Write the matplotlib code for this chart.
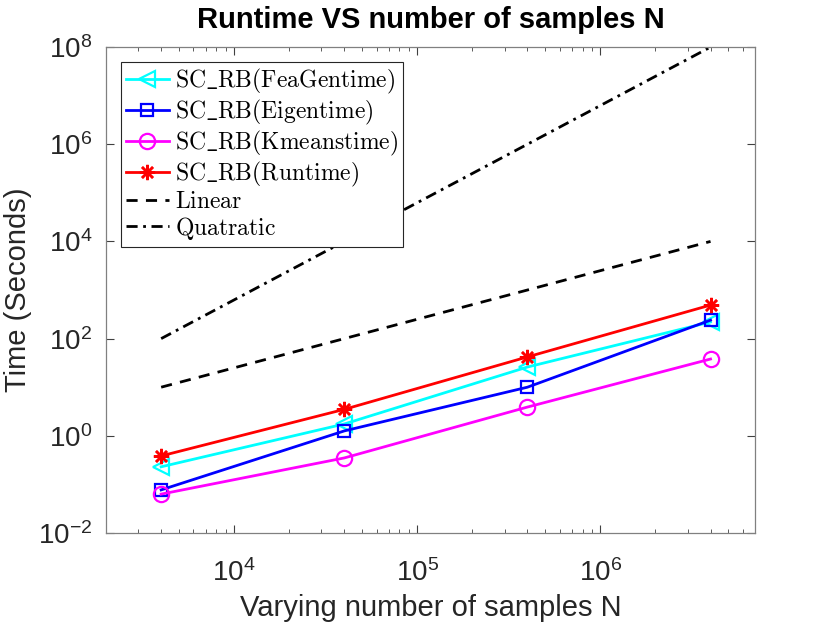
"""Runtime vs number of samples N, log-log scaling chart."""
import matplotlib
matplotlib.use("Agg")
import matplotlib.pyplot as plt
from matplotlib.ticker import LogLocator, NullLocator

plt.rcParams["font.family"] = ["Liberation Sans", "DejaVu Sans"]
plt.rcParams["mathtext.fontset"] = "cm"

N = [4e3, 4e4, 4e5, 4e6]
feagen = [0.23, 1.75, 26, 220]
eigen = [0.077, 1.26, 10, 240]
kmeans = [0.063, 0.35, 3.9, 38]
runtime = [0.385, 3.5, 42, 490]
linear = [1e1, 1e2, 1e3, 1e4]
quadratic = [1e2, 1e4, 1e6, 1e8]

fig = plt.figure(figsize=(8.31, 6.36), dpi=100)
ax = fig.add_axes([0.1276, 0.162, 0.781, 0.764])

lw, ms = 2, 10
ax.plot(N, feagen, color="cyan", marker="<", mfc="none", mew=1.6, ms=ms + 1, lw=lw,
        label=r"$\mathrm{SC\_RB(FeaGentime)}$")
ax.plot(N, eigen, color="#0000ff", marker="s", mfc="none", mew=1.6, ms=ms - 1, lw=lw,
        label=r"$\mathrm{SC\_RB(Eigentime)}$")
ax.plot(N, kmeans, color="magenta", marker="o", mfc="none", mew=1.6, ms=ms + 1, lw=lw,
        label=r"$\mathrm{SC\_RB(Kmeanstime)}$")
ax.plot(N, runtime, color="red", marker=(8, 2, 0), mew=1.8, ms=ms + 1, lw=lw,
        label=r"$\mathrm{SC\_RB(Runtime)}$")
ax.plot(N, linear, color="black", ls=(0, (4, 3)), lw=lw, label=r"$\mathrm{Linear}$")
ax.plot(N, quadratic, color="black", ls=(0, (4, 2, 1, 2)), lw=lw, label=r"$\mathrm{Quatratic}$")

ax.set_xscale("log")
ax.set_yscale("log")
ax.set_xlim(2e3, 7e6)
ax.set_ylim(1e-2, 1e8)
ax.set_yticks([1e-2, 1e0, 1e2, 1e4, 1e6, 1e8])
ax.yaxis.set_minor_locator(NullLocator())
ax.xaxis.set_minor_locator(LogLocator(base=10, subs=range(2, 10), numticks=20))

ax.tick_params(which="both", direction="in", top=True, right=True, colors="#404040",
               labelcolor="#262626", labelsize=20)
ax.tick_params(axis="x", which="major", pad=19)
ax.tick_params(axis="y", which="major", pad=10)
ax.tick_params(which="major", length=6, width=0.8)
ax.tick_params(which="minor", length=3, width=0.6)
for s in ax.spines.values():
    s.set_color("#808080")
    s.set_linewidth(0.9)

ax.set_xlabel("Varying number of samples N", fontsize=21, color="#262626", labelpad=5)
ax.set_ylabel("Time (Seconds)", fontsize=21, color="#262626", labelpad=4)
ax.set_title("Runtime VS number of samples N", fontsize=21, fontweight="bold", pad=14)

leg = ax.legend(loc="upper left", bbox_to_anchor=(0.023, 0.97), fontsize=17,
                frameon=True, fancybox=False, edgecolor="#262626", framealpha=1,
                handlelength=1.8, handletextpad=0.25, borderpad=0.22, labelspacing=0.08,
                borderaxespad=0)
leg.get_frame().set_linewidth(0.8)

fig.savefig("out.png", dpi=100)
